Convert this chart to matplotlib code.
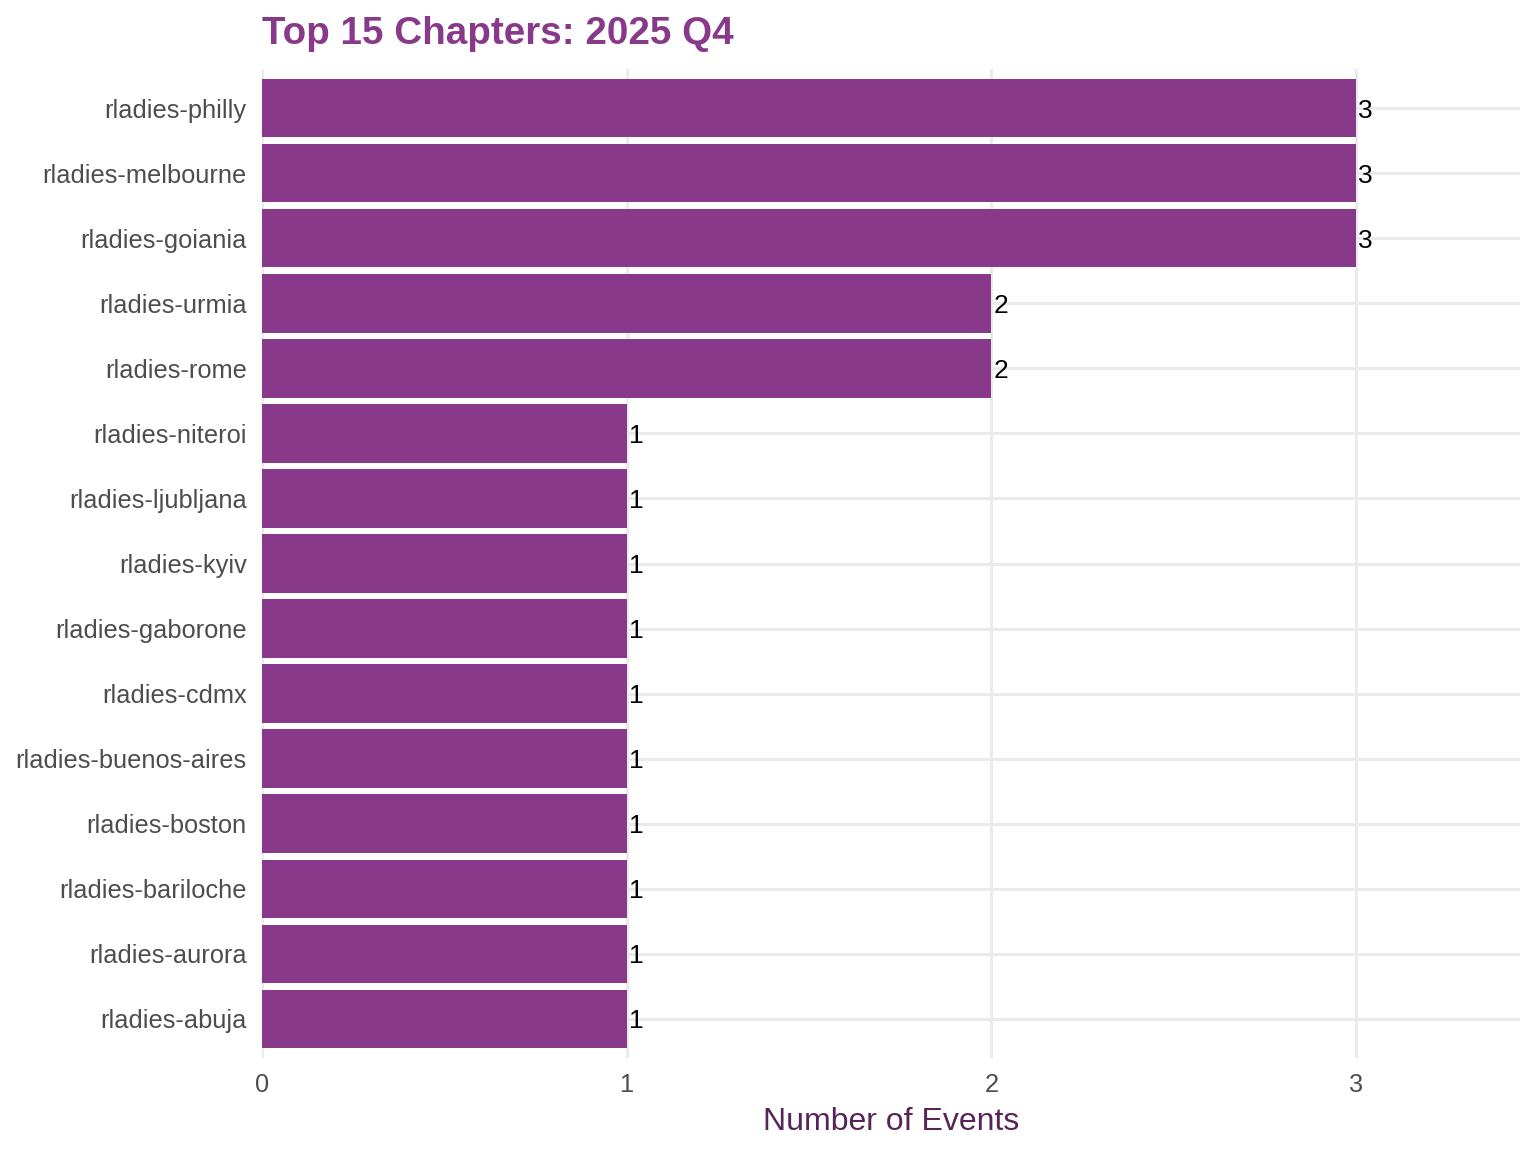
import numpy as np
import matplotlib.pyplot as plt

plt.rcParams['font.family'] = ['Liberation Sans', 'DejaVu Sans']

chapters = ["rladies-philly", "rladies-melbourne", "rladies-goiania", "rladies-urmia",
            "rladies-rome", "rladies-niteroi", "rladies-ljubljana", "rladies-kyiv",
            "rladies-gaborone", "rladies-cdmx", "rladies-buenos-aires", "rladies-boston",
            "rladies-bariloche", "rladies-aurora", "rladies-abuja"]
events = [3, 3, 3, 2, 2, 1, 1, 1, 1, 1, 1, 1, 1, 1, 1]

purple = "#88398A"
dark_purple = "#562457"

fig = plt.figure(figsize=(15.36, 11.52), dpi=100)
ax = fig.add_axes([262/1536, 1-1058/1152, (1520-262)/1536, (1058-69)/1152])

ypos = np.arange(len(chapters))[::-1]
ax.barh(ypos, events, height=0.9, color=purple, zorder=2)
for y, v in zip(ypos, events):
    ax.text(v + 0.006, y, str(v), va='center_baseline', ha='left', fontsize=19, color='black', zorder=3)

ax.set_xlim(0, 3.45)
ax.set_ylim(-0.6, len(chapters) - 0.4)
ax.set_yticks(ypos)
ax.set_yticklabels(chapters)
ax.set_xticks([0, 1, 2, 3])
ax.tick_params(axis='both', length=0, labelsize=18.3, labelcolor="#4D4D4D")
ax.tick_params(axis='y', pad=11)
ax.tick_params(axis='x', pad=11)
ax.grid(True, color="#EBEBEB", linewidth=2.2, zorder=0)
ax.set_axisbelow(True)
for s in ax.spines.values():
    s.set_visible(False)

ax.set_xlabel("Number of Events", fontsize=23, color=dark_purple, labelpad=7)
fig.text(262/1536, 1-44/1152, "Top 15 Chapters: 2025 Q4", fontsize=27.8, fontweight='bold',
         color=purple, ha='left', va='baseline')

plt.savefig("out.png", dpi=100)
